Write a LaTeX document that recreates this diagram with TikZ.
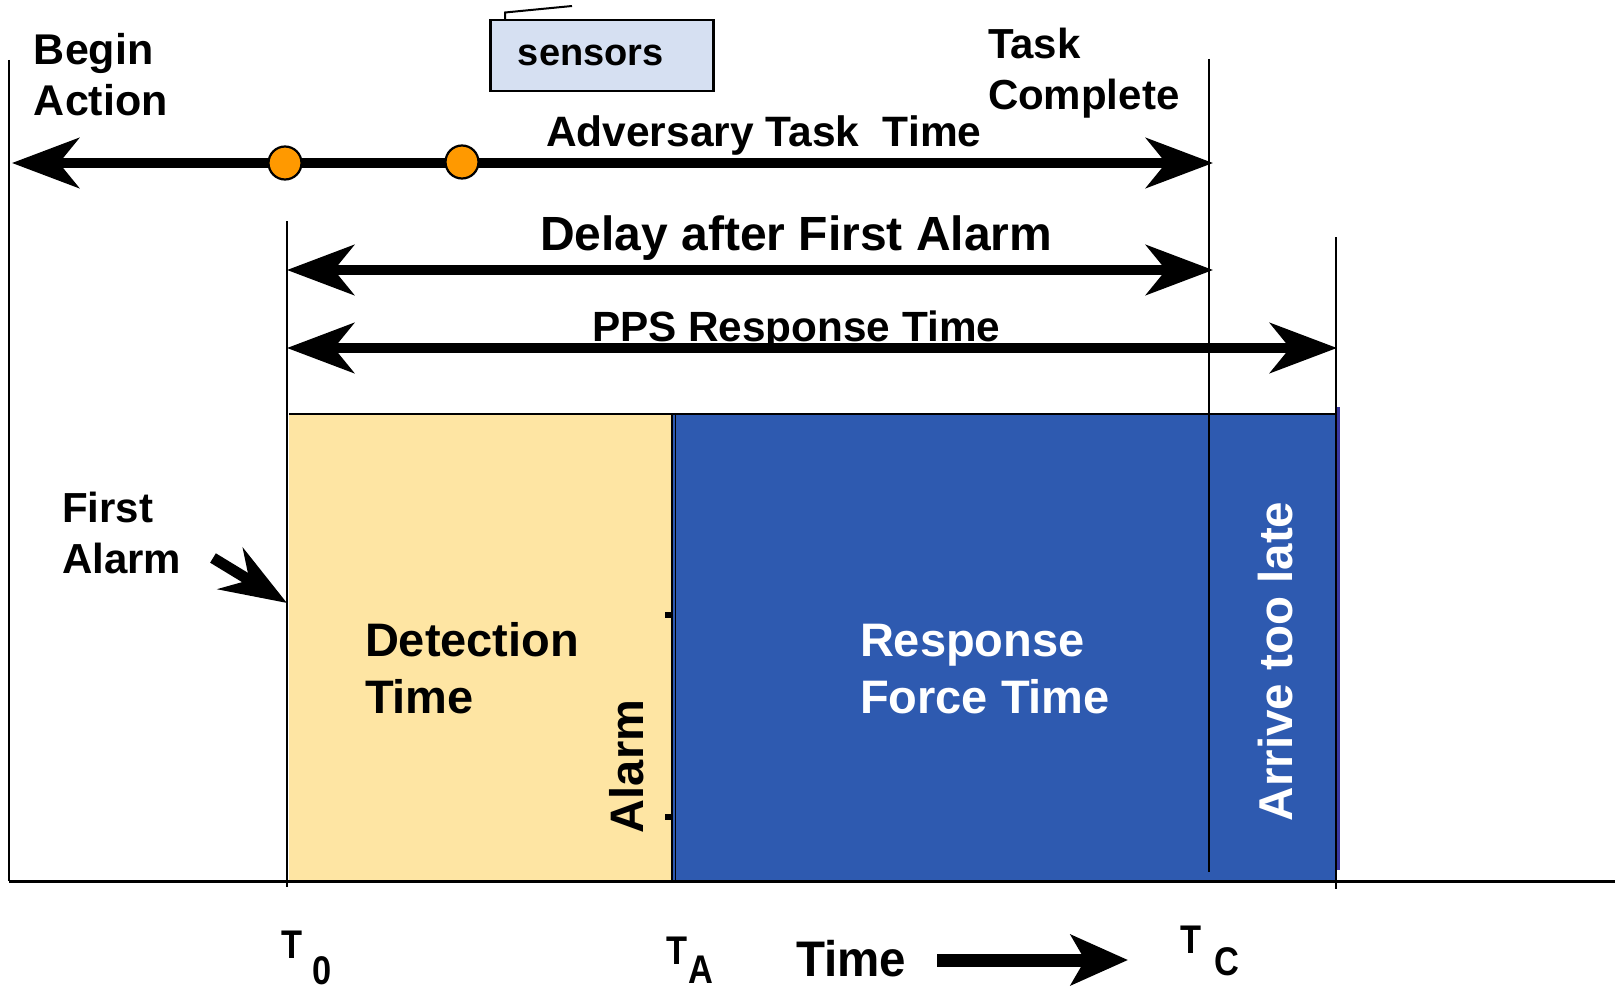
\documentclass[tikz,border=0pt]{standalone}
\usepackage{fontspec}
\setmainfont{Liberation Sans}
\usetikzlibrary{arrows.meta}
\definecolor{detectfill}{RGB}{254,229,163}
\definecolor{responsefill}{RGB}{46,90,176}
\definecolor{responseedge}{RGB}{58,56,160}
\definecolor{sensorfill}{RGB}{214,224,242}
\definecolor{eventdot}{RGB}{255,153,0}
\newcommand\txtsize[2]{\fontsize{#1}{#2}\selectfont\bfseries}
\tikzset{
  lbl/.style={inner sep=0pt, outer sep=0pt, anchor=base west},
  rule/.style={line width=2.2pt},
  bigtip/.tip={Stealth[length=67pt,width=50pt,inset=20pt]},
  span/.style={line width=10pt, bigtip-bigtip},
  event/.style={circle, draw, line width=2.2pt, fill=eventdot, minimum size=33pt, inner sep=0pt},
  tlabel/.style={lbl, font=\txtsize{40}{40}}
}
\begin{document}
\begin{tikzpicture}[x=1pt,y=-1pt]
\useasboundingbox (0,0) rectangle (1615,990);

% time bands
\fill[detectfill] (289,415) rectangle (673,881);
\fill[responsefill] (673,415) rectangle (1336,881);
\draw[line width=5pt, responseedge] (1337.5,407) -- (1337.5,870);
\draw[rule] (289,414) -- (1336,414);
\draw[rule] (672,414) -- (672,881);
\draw[line width=1pt] (675.5,414) -- (675.5,881);
\fill (665,612) rectangle (671,618);
\fill (665,814) rectangle (671,820);

% axes and markers
\coordinate (leftTop) at (9,60);
\coordinate (leftBot) at (9,881);
\coordinate (rightEnd) at (1615,881);
\coordinate (t0Top) at (287,221);
\coordinate (t0Bot) at (287,887);
\coordinate (tcTop) at (1209,59);
\coordinate (tcBot) at (1209,872);
\coordinate (trTop) at (1336,237);
\coordinate (trBot) at (1336,889);
\draw[rule] (leftTop) -- (leftBot);
\draw[line width=3pt] (leftBot) -- (rightEnd);
\draw[rule] (t0Top) -- (t0Bot);
\draw[rule] (tcTop) -- (tcBot);
\draw[rule] (trTop) -- (trBot);

% labels
\node[lbl, font=\txtsize{43}{51}] (begin) at (34,65) {\begin{tabular}[t]{@{}l@{}}Begin\\Action\end{tabular}};
\node[lbl, font=\txtsize{42}{51}] (complete) at (988,59) {\begin{tabular}[t]{@{}l@{}}Task\\Complete\end{tabular}};
\node[lbl, font=\txtsize{42.5}{42.5}] (advlbl) at (546,146.5) {Adversary Task\ \ Time};
\node[lbl, font=\txtsize{48}{48}] (delaylbl) at (540,250) {Delay after First Alarm};
\node[lbl, font=\txtsize{42.3}{42.3}] (ppslbl) at (592,341.5) {PPS Response Time};
\node[lbl, font=\txtsize{42}{51}] (firstalarm) at (62,522) {\begin{tabular}[t]{@{}l@{}}First\\Alarm\end{tabular}};
\node[lbl, font=\txtsize{47}{57}] (detlbl) at (365,656) {\begin{tabular}[t]{@{}l@{}}Detection\\Time\end{tabular}};
\node[lbl, font=\txtsize{47}{57}, text=white] (resplbl) at (860,656) {\begin{tabular}[t]{@{}l@{}}Response\\Force Time\end{tabular}};
\node[lbl, font=\txtsize{47}{47}, rotate=90] (alarmlbl) at (643,833) {Alarm};
\node[lbl, font=\txtsize{47.5}{47.5}, rotate=90, text=white] (latelbl) at (1292,821) {Arrive too late};

% sensors box with antenna
\node[draw, line width=2.5pt, fill=sensorfill, anchor=north west, minimum width=223pt, minimum height=71pt, inner sep=0pt, font=\txtsize{38}{38}] (sensors) at (489,19) {sensors\rule{22pt}{0pt}};
\coordinate (ant1) at (505,19);
\coordinate (ant2) at (505,12.5);
\coordinate (ant3) at (572,6);
\draw[line width=2pt] (ant1) -- (ant2) -- (ant3);

% time spans
\coordinate (advL) at (12,163);
\coordinate (advR) at (1213,163);
\coordinate (delL) at (287,270);
\coordinate (delR) at (1213,270);
\coordinate (ppsL) at (287,348);
\coordinate (ppsR) at (1337,348);
\draw[span] (advL) -- (advR);
\draw[span] (delL) -- (delR);
\draw[span] (ppsL) -- (ppsR);
\node[event] (ev1) at (285,163) {};
\node[event] (ev2) at (462,162) {};

% first alarm pointer
\coordinate (faTail) at (213,558);
\coordinate (faTip) at (287,603);
\draw[line width=11pt, -{Stealth[length=66pt,width=48pt,inset=22pt]}] (faTail) -- (faTip);

% time axis labels
\node[tlabel] (t0) at (281,958) {\scalebox{0.86}[1]{T\kern12pt\raisebox{-26pt}{0}}};
\node[tlabel] (ta) at (666,964) {\scalebox{0.86}[1]{T\kern2pt\raisebox{-19pt}{A}}};
\node[tlabel] (tc) at (1180,953) {\scalebox{0.86}[1]{T\kern16pt\raisebox{-22pt}{C}}};
\node[lbl, font=\txtsize{50}{50}] (timelbl) at (796,976) {\scalebox{0.95}[1]{Time}};
\coordinate (timeL) at (937,960);
\coordinate (timeR) at (1128,960);
\draw[line width=13pt, -{Stealth[length=57pt,width=50pt,inset=14pt]}] (timeL) -- (timeR);
\end{tikzpicture}
\end{document}
